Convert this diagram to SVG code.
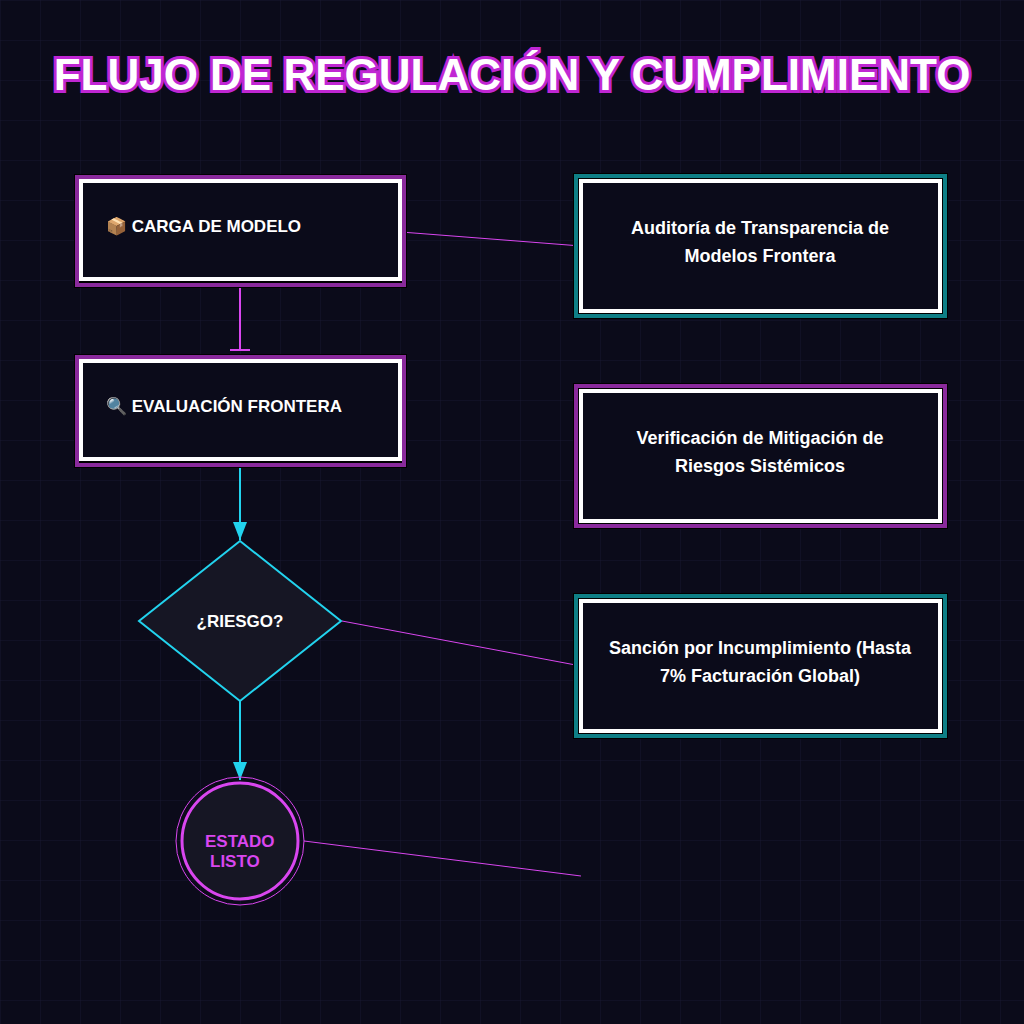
<svg xmlns="http://www.w3.org/2000/svg" width="1024" height="1024" viewBox="0 0 1024 1024">
<defs>
<pattern id="grid" width="40" height="40" patternUnits="userSpaceOnUse"><path d="M40 0H0V40" fill="none" stroke="#181830" stroke-width="1"/></pattern>
<marker id="arr" markerWidth="20" markerHeight="14" refX="18" refY="7" orient="auto" markerUnits="userSpaceOnUse"><path d="M0 0L18 7L0 14Z" fill="#22d3ee"/></marker>
</defs>
<style>
.t{font-family:"Liberation Sans",Arial,sans-serif;font-weight:bold;fill:#fff}
.pm{fill:#0b0b1a;stroke:#fff;stroke-width:4}
</style>
<rect width="1024" height="1024" fill="#0b0b1a"/>
<rect width="1024" height="1024" fill="url(#grid)"/>
<text x="512" y="90" text-anchor="middle" class="t" font-size="44" fill="#fff" stroke="#c026d3" stroke-width="6" paint-order="stroke">FLUJO DE REGULACIÓN Y CUMPLIMIENTO</text>
<g id="connectors" fill="none">
<line x1="240" y1="282" x2="240" y2="350" stroke="#d946ef" stroke-width="2"/>
<path d="M230 350H250" stroke="#d946ef" stroke-width="2"/>
<line x1="240" y1="462" x2="240" y2="540" stroke="#22d3ee" stroke-width="2" marker-end="url(#arr)"/>
<line x1="240" y1="701" x2="240" y2="780" stroke="#22d3ee" stroke-width="2" marker-end="url(#arr)"/>
<line x1="401" y1="232" x2="581" y2="246" stroke="#d946ef" stroke-width="1"/>
<line x1="342" y1="621" x2="581" y2="666" stroke="#d946ef" stroke-width="1"/>
<line x1="304" y1="841" x2="581" y2="876" stroke="#d946ef" stroke-width="1"/>
</g>
<g id="n1">
<rect x="74" y="174" width="333" height="114" fill="#000"/>
<rect x="77" y="177" width="327" height="108" fill="none" stroke="#8a2a9c" stroke-width="4"/>
<rect x="81" y="181" width="319" height="98" class="pm"/>
<text x="106" y="232" class="t" font-size="17">📦 CARGA DE MODELO</text>
</g>
<g id="n2">
<rect x="74" y="354" width="333" height="114" fill="#000"/>
<rect x="77" y="357" width="327" height="108" fill="none" stroke="#8a2a9c" stroke-width="4"/>
<rect x="81" y="361" width="319" height="98" class="pm"/>
<text x="106" y="412" class="t" font-size="17">🔍 EVALUACIÓN FRONTERA</text>
</g>
<g id="n3">
<polygon points="240,541 341,621 240,701 139,621" fill="#161624" stroke="#22d3ee" stroke-width="2"/>
<text x="240" y="627" text-anchor="middle" class="t" font-size="17">¿RIESGO?</text>
</g>
<g id="n4">
<circle cx="240" cy="841" r="64" fill="none" stroke="#d946ef" stroke-width="1"/>
<circle cx="240" cy="841" r="58" fill="#161624" stroke="#d946ef" stroke-width="3"/>
<text class="t" font-size="17" style="fill:#d946ef"><tspan x="205" y="847">ESTADO</tspan><tspan x="210" y="867">LISTO</tspan></text>
</g>
<g id="n5">
<rect x="573" y="173" width="375" height="146" fill="#000"/>
<rect x="576" y="176" width="369" height="140" fill="none" stroke="#0e7f86" stroke-width="4"/>
<rect x="581" y="181" width="359" height="130" class="pm"/>
<text text-anchor="middle" class="t" font-size="18"><tspan x="760" y="234">Auditoría de Transparencia de</tspan><tspan x="760" y="262">Modelos Frontera</tspan></text>
</g>
<g id="n6">
<rect x="573" y="383" width="375" height="146" fill="#000"/>
<rect x="576" y="386" width="369" height="140" fill="none" stroke="#8a2a9c" stroke-width="4"/>
<rect x="581" y="391" width="359" height="130" class="pm"/>
<text text-anchor="middle" class="t" font-size="18"><tspan x="760" y="444">Verificación de Mitigación de</tspan><tspan x="760" y="472">Riesgos Sistémicos</tspan></text>
</g>
<g id="n7">
<rect x="573" y="593" width="375" height="146" fill="#000"/>
<rect x="576" y="596" width="369" height="140" fill="none" stroke="#0e7f86" stroke-width="4"/>
<rect x="581" y="601" width="359" height="130" class="pm"/>
<text text-anchor="middle" class="t" font-size="18"><tspan x="760" y="654">Sanción por Incumplimiento (Hasta</tspan><tspan x="760" y="682">7% Facturación Global)</tspan></text>
</g>
</svg>
